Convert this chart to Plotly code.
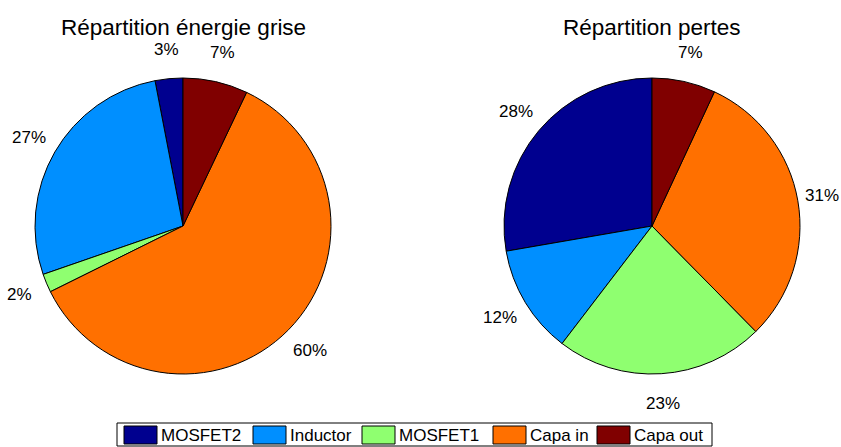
import math
import plotly.graph_objects as go

# Component breakdowns (percent), listed counter-clockwise from 12 o'clock
components = ["MOSFET2", "Inductor", "MOSFET1", "Capa in", "Capa out"]
energie_grise = [3, 27, 2, 60, 7]
pertes = [28, 12, 23, 31, 7]
colors = ["#00008F", "#008FFF", "#8FFF70", "#FF7000", "#800000"]
titles = ["Répartition énergie grise", "Répartition pertes"]

W, H = 841, 447
FONT = "Liberation Sans, Arial, sans-serif"
R = 148                                  # pie radius, px
CENTERS = [(183, 226), (652, 226)]       # pie centres, px from top-left
LABEL_R = 1.2                            # percent labels sit at 1.2 x radius
LABEL_SIZE = 17
EDGE_PAD = 19                            # keep label centres this far from the page edge


def px(x):
    return x / W


def py(y):
    return (H - y) / H


fig = go.Figure()
for vals, (cx, cy) in zip([energie_grise, pertes], CENTERS):
    total = sum(vals)
    # plotly's counter-clockwise pies end the first slice at `rotation`;
    # shift so that the first slice starts at 12 o'clock instead
    fig.add_trace(go.Pie(
        labels=components,
        values=vals,
        sort=False,
        direction="counterclockwise",
        rotation=-360 * vals[0] / total,
        marker=dict(colors=colors, line=dict(color="black", width=1)),
        textinfo="none",
        domain=dict(x=[px(cx - R), px(cx + R)], y=[py(cy + R), py(cy - R)]),
        hoverinfo="label+value",
        showlegend=False,
    ))
    # percent labels at the mid-angle of each slice
    cum = 0
    for v in vals:
        theta = math.radians(360 * (cum + v / 2) / total)
        cum += v
        lx = cx - LABEL_R * R * math.sin(theta)
        ly = cy - LABEL_R * R * math.cos(theta)
        lx = min(max(lx, EDGE_PAD), W - EDGE_PAD)
        fig.add_annotation(text=f"{v}%", x=px(lx), y=py(ly), xref="paper", yref="paper",
                           showarrow=False, xanchor="center", yanchor="middle",
                           font=dict(family=FONT, size=LABEL_SIZE, color="black"))

for title, (cx, _) in zip(titles, CENTERS):
    fig.add_annotation(text=title, x=px(cx), y=py(27), xref="paper", yref="paper",
                       showarrow=False, xanchor="center", yanchor="middle",
                       font=dict(family=FONT, size=22.5, color="black"))

# Shared legend box along the bottom edge
LEG_BOX = (117, 423, 712, 446)
LEG_SWATCH_X = [124, 253, 362, 493, 597]
SW_W, SW_H, LEG_Y = 33, 18, 435
shapes = [dict(type="rect", xref="paper", yref="paper",
               x0=px(LEG_BOX[0]), x1=px(LEG_BOX[2]), y0=py(LEG_BOX[3]), y1=py(LEG_BOX[1]),
               line=dict(color="black", width=1), fillcolor="white", layer="below")]
for name, col, sx in zip(components, colors, LEG_SWATCH_X):
    shapes.append(dict(type="rect", xref="paper", yref="paper",
                       x0=px(sx), x1=px(sx + SW_W),
                       y0=py(LEG_Y + SW_H / 2), y1=py(LEG_Y - SW_H / 2),
                       line=dict(color="black", width=1), fillcolor=col))
    fig.add_annotation(text=name, x=px(sx + SW_W + 2), y=py(LEG_Y), xref="paper", yref="paper",
                       showarrow=False, xanchor="left", yanchor="middle",
                       font=dict(family=FONT, size=17, color="black"))

fig.update_layout(
    width=W, height=H,
    margin=dict(l=0, r=0, t=0, b=0),
    paper_bgcolor="white",
    plot_bgcolor="white",
    shapes=shapes,
)

fig.write_html("out.html")
